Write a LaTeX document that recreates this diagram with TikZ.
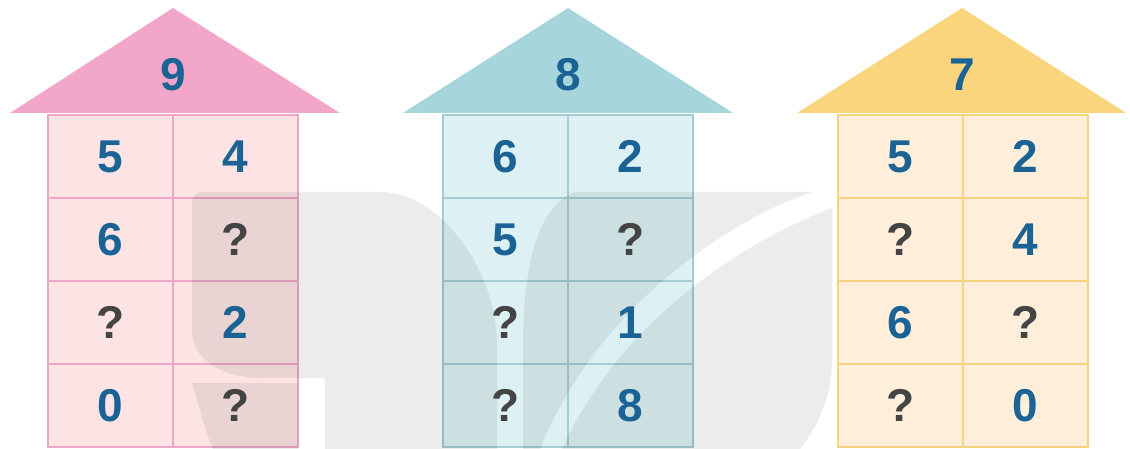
\documentclass[tikz,border=0pt]{standalone}
\usepackage{fontspec}
\setmainfont{Liberation Sans}
\definecolor{pinkroof}{HTML}{F2A7CA}
\definecolor{pinkbody}{HTML}{FDE4E4}
\definecolor{pinkline}{HTML}{EFA5C6}
\definecolor{blueroof}{HTML}{A6D6DC}
\definecolor{bluebody}{HTML}{DDF1F4}
\definecolor{blueline}{HTML}{A2CDD3}
\definecolor{yelroof}{HTML}{FBD57E}
\definecolor{yelbody}{HTML}{FEEEDA}
\definecolor{yelline}{HTML}{F5D37F}
\definecolor{numblue}{HTML}{1B6394}
\definecolor{qgray}{HTML}{444444}
\begin{document}
\begin{tikzpicture}[x=1pt,y=-1pt,
  num/.style={font=\bfseries\fontsize{46}{46}\selectfont, text=numblue},
  qm/.style={font=\bfseries\fontsize{46}{46}\selectfont, text=qgray},
  cell/.style={draw=#1, fill=none, line width=2pt, minimum width=125pt, minimum height=83pt, inner sep=0pt, outer sep=0pt, anchor=north west},
  wm/.style={fill=black, fill opacity=0.075}]
\useasboundingbox (0,0) rectangle (1130,449);
% ---------- house 1 (pink) ----------
\fill[pinkbody] (48,115) rectangle (298,447);
\foreach \r in {0,1,2,3}{\foreach \c in {0,1}{
  \node[cell=pinkline] (p\r\c) at (48+125*\c,115+83*\r) {};}}
\fill[pinkroof] (173,8) -- (340,113) -- (10,113) -- cycle;
% ---------- house 2 (blue) ----------
\fill[bluebody] (443,115) rectangle (693,447);
\foreach \r in {0,1,2,3}{\foreach \c in {0,1}{
  \node[cell=blueline] (b\r\c) at (443+125*\c,115+83*\r) {};}}
\fill[blueroof] (568,8) -- (733,113) -- (403,113) -- cycle;
% ---------- house 3 (yellow) ----------
\fill[yelbody] (838,115) rectangle (1088,447);
\foreach \r in {0,1,2,3}{\foreach \c in {0,1}{
  \node[cell=yelline] (y\r\c) at (838+125*\c,115+83*\r) {};}}
\fill[yelroof] (962,8) -- (1126,113) -- (797,113) -- cycle;
% ---------- watermark ----------
\fill[wm] (192,330) -- (192,204) .. controls (192,196) and (196,192) .. (204,192)
  -- (380,192) .. controls (440,192) and (497,270) .. (497,345) -- (497,449)
  -- (325,449) -- (325,378) -- (262,378) .. controls (222,378) and (192,360) .. (192,330) -- cycle;
\fill[wm] (192,383) .. controls (200,410) and (205,430) .. (213,449) -- (298,449) -- (298,383) -- cycle;
\fill[wm] (523,449) -- (523,345) .. controls (523,260) and (540,205) .. (575,192) -- (813,192)
  .. controls (740,215) and (600,300) .. (540,449) -- cycle;
\fill[wm] (832,208) -- (832,360) .. controls (832,400) and (815,430) .. (800,449) -- (562,449)
  .. controls (625,310) and (760,235) .. (832,208) -- cycle;
% ---------- texts ----------
\node[num] (p) at (173,75) {9};
\node[num] at (p00) {5}; \node[num] at (p01) {4};
\node[num] at (p10) {6}; \node[qm]  at (p11) {?};
\node[qm]  at (p20) {?}; \node[num] at (p21) {2};
\node[num] at (p30) {0}; \node[qm]  at (p31) {?};
\node[num] (b) at (568,75) {8};
\node[num] at (b00) {6}; \node[num] at (b01) {2};
\node[num] at (b10) {5}; \node[qm]  at (b11) {?};
\node[qm]  at (b20) {?}; \node[num] at (b21) {1};
\node[qm]  at (b30) {?}; \node[num] at (b31) {8};
\node[num] (y) at (962,75) {7};
\node[num] at (y00) {5}; \node[num] at (y01) {2};
\node[qm]  at (y10) {?}; \node[num] at (y11) {4};
\node[num] at (y20) {6}; \node[qm]  at (y21) {?};
\node[qm]  at (y30) {?}; \node[num] at (y31) {0};
\end{tikzpicture}
\end{document}
